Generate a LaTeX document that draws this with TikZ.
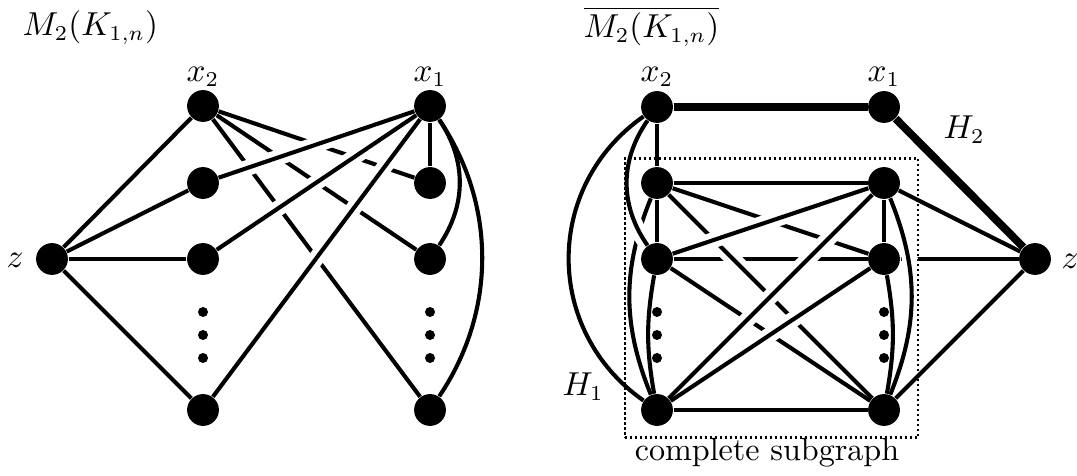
\documentclass[tikz,border=0pt]{standalone}
\usepackage{amsmath,amssymb}
\usetikzlibrary{backgrounds}

\begin{document}
\begin{tikzpicture}[
  x=0.33pt, y=-0.33pt,
  font=\fontsize{10.6}{12.7}\selectfont,
  vtx/.style={circle, fill=black, inner sep=0pt, minimum size=10.5pt},
  pip/.style={circle, fill=black, inner sep=0pt, minimum size=3.3pt},
  lbl/.style={inner sep=0pt},
  ln/.style={line width=1.35pt},
  heavy/.style={line width=2.6pt},
  bridge/.style 2 args={preaction={draw, white, line width=5.2pt,
                        shorten <=#1, shorten >=#2}},
  box/.style={line width=0.8pt, dash pattern=on 0.8pt off 0.85pt},
]
\useasboundingbox (0,0) rectangle (1077,476);

%% --- Left graph: M_2(K_{1,n}) ---
\node[lbl, anchor=base west] (Ltitle) at (22,36) {$M_2(K_{1,n})$};

\node[vtx] (Lz)  at ( 52,259) {};
\node[vtx] (Lx2) at (203,106) {};
\node[vtx] (Lx1) at (430,106) {};
\node[vtx] (Lu2) at (203,183) {};
\node[vtx] (Lu3) at (203,259) {};
\node[vtx] (Lu4) at (203,410) {};
\node[vtx] (Lv2) at (430,183) {};
\node[vtx] (Lv3) at (430,259) {};
\node[vtx] (Lv4) at (430,410) {};

\node[pip] (Lud1) at (203,312) {};
\node[pip] (Lud2) at (203,335) {};
\node[pip] (Lud3) at (203,358) {};
\node[pip] (Lvd1) at (430,312) {};
\node[pip] (Lvd2) at (430,335) {};
\node[pip] (Lvd3) at (430,358) {};

\node[lbl, anchor=base] (Ltx2) at (203,82) {$x_2$};
\node[lbl, anchor=base] (Ltx1) at (430,82) {$x_1$};
\node[lbl] (Ltz) at (15,260) {$z$};

%% --- Right graph: complement of M_2(K_{1,n}) ---
\node[lbl, anchor=base west] (Rtitle) at (583,38) {$\overline{M_2(K_{1,n})}$};

\node[vtx] (Rx2) at ( 657,107) {};
\node[vtx] (Rx1) at ( 884,107) {};
\node[vtx] (Rz)  at (1035,259) {};
\node[vtx] (Ru1) at ( 657,183) {};
\node[vtx] (Ru2) at ( 657,259) {};
\node[vtx] (Ru3) at ( 657,410) {};
\node[vtx] (Rv1) at ( 884,183) {};
\node[vtx] (Rv2) at ( 884,259) {};
\node[vtx] (Rv3) at ( 884,410) {};

\node[pip] (Rud1) at (657,312) {};
\node[pip] (Rud2) at (657,335) {};
\node[pip] (Rud3) at (657,358) {};
\node[pip] (Rvd1) at (884,312) {};
\node[pip] (Rvd2) at (884,335) {};
\node[pip] (Rvd3) at (884,358) {};

\node[lbl, anchor=base] (Rtx2) at (657,82) {$x_2$};
\node[lbl, anchor=base] (Rtx1) at (884,82) {$x_1$};
\node[lbl] (Rtz) at (1070,261) {$z$};
\node[lbl, anchor=base west] (RtH2) at (943,139) {$H_2$};
\node[lbl, anchor=base west] (RtH1) at (562,396) {$H_1$};

%% dotted frame round the complete subgraph
\node[box, draw, inner sep=0pt, minimum width=293.3*0.33pt, minimum height=279.4*0.33pt]
  (Rframe) at (771.6,298) {};
\node[lbl, anchor=base] (Rtsub) at (767,460) {complete subgraph};

\begin{scope}[on background layer]
%% --- Left edges ---
\draw[ln] (Lz) -- (Lx2);
\draw[ln] (Lz) -- (Lu2);
\draw[ln] (Lz) -- (Lu3);
\draw[ln] (Lz) -- (Lu4);
\draw[ln] (Lx2) -- (Lv2);
\draw[ln] (Lx2) -- (Lv3);
\draw[ln] (Lx2) -- (Lv4);
\draw[ln, bridge={10pt}{1pt}] (Lx1) -- (Lu2);
\draw[ln, bridge={10pt}{1pt}] (Lx1) -- (Lu3);
\draw[ln, bridge={10pt}{1pt}] (Lx1) -- (Lu4);
\draw[ln] (Lx1) -- (Lv2);
\draw[ln] (Lx1) to[out=-56, in=56] (Lv3);
\draw[ln] (Lx1) to[out=-56, in=56, looseness=0.95] (Lv4);

%% --- Right edges ---
\draw[heavy] (Rx2) -- (Rx1);
\draw[heavy] (Rx1) -- (Rz);
\draw[ln] (Rx2) to[out=215, in=145, looseness=1.1] (Ru3);
\draw[ln] (Rx2) -- (Ru1);
\draw[ln] (Ru1) -- (Ru2);
\draw[ln] (Rv1) -- (Rv2);
\draw[ln] (Ru1) -- (Rv1);
\draw[ln] (Ru3) -- (Rv3);
\draw[ln] (Rv1) -- (Rz);
\draw[ln] (Rv3) -- (Rz);
\draw[ln] (Ru1) to[out=248, in=112] (Ru3);
\draw[ln] (Rv2) -- (Rz);
\draw[ln, bridge={5pt}{1pt}] (Rx2) to[out=235, in=125] (Ru2);
\draw[ln, bridge={5pt}{11pt}] (Rv1) to[out=-68, in=68] (Rv3);
\draw[ln] (Ru2) to[out=260, in=100] (Ru3);
\draw[ln] (Rv2) to[out=-80, in=80] (Rv3);
\draw[ln] (Ru2) -- (Rv2);
\draw[ln, bridge={6pt}{6pt}] (Ru1) -- (Rv3);
\draw[ln] (Ru1) -- (Rv2);
\draw[ln] (Ru2) -- (Rv3);
\draw[ln, bridge={6pt}{6pt}] (Ru2) -- (Rv1);
\draw[ln, bridge={12pt}{6pt}] (Ru3) -- (Rv1);
\draw[ln, bridge={12pt}{6pt}] (Ru3) -- (Rv2);
\end{scope}

\end{tikzpicture}
\end{document}
